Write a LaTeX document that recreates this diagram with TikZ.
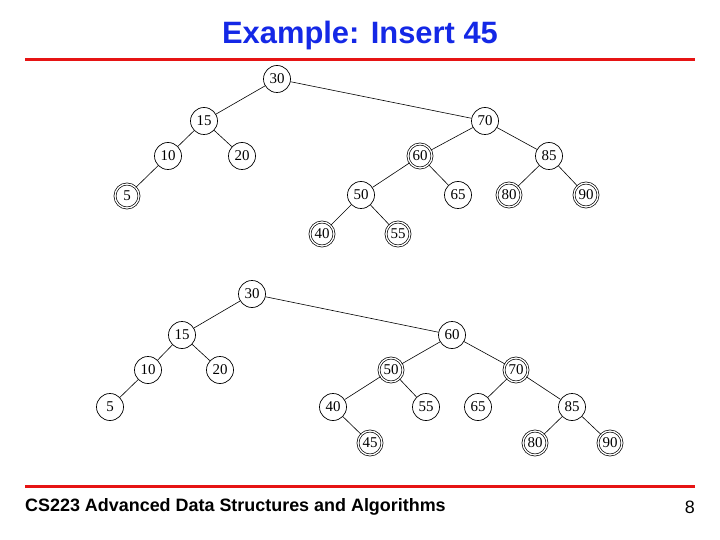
\documentclass[tikz,border=0pt]{standalone}
\usepackage{fontspec}
\setsansfont{Liberation Sans}
\newfontfamily\nodefont{Liberation Serif}
\definecolor{titleblue}{RGB}{20,40,230}
\definecolor{barred}{RGB}{230,20,20}
\tikzset{
  nd/.style={circle, draw, line width=0.7pt, minimum size=27bp, inner sep=0pt, font=\nodefont\fontsize{15}{15}\selectfont},
  rnd/.style={nd, double, double distance=1.3pt, minimum size=24bp},
  edge/.style={line width=0.6pt}
}
\begin{document}
\begin{tikzpicture}[x=1bp, y=-1bp]
        \useasboundingbox (0,0) rectangle (720,540);
        % Title and bars
        \node (title) at (360,36) {\sffamily\bfseries\fontsize{31}{31}\selectfont\color{titleblue}Example: Insert 45};
        \draw [barred, line width=3bp] (25,60) -- (695,60);
        \draw [barred, line width=3bp] (25,486) -- (695,486);
        \node [anchor=west, inner sep=0pt] (course) at (25,507) {\sffamily\bfseries\fontsize{18}{18}\selectfont CS223 Advanced Data Structures and Algorithms};
        \node [anchor=east, inner sep=0pt] (page) at (695,507) {\sffamily\fontsize{18}{18}\selectfont 8};
        % Top tree
        \node [nd] (a30) at (277,79) {30};
        \node [nd] (a15) at (204,121) {15};
        \node [nd] (a70) at (485,121) {70};
        \node [nd] (a10) at (168,156) {10};
        \node [nd] (a20) at (242,156) {20};
        \node [rnd] (a60) at (420,156) {60};
        \node [nd] (a85) at (549,156) {85};
        \node [rnd] (a5) at (127,196) {5};
        \node [nd] (a50) at (361,195) {50};
        \node [nd] (a65) at (458,195) {65};
        \node [rnd] (a80) at (509,195) {80};
        \node [rnd] (a90) at (586,195) {90};
        \node [rnd] (a40) at (322,234) {40};
        \node [rnd] (a55) at (398,234) {55};
        \foreach \p/\c in {30/15,30/70,15/10,15/20,10/5,70/60,70/85,60/50,60/65,85/80,85/90,50/40,50/55}
            \draw [edge] (a\p) -- (a\c);
        % Bottom tree
        \node [nd] (b30) at (252,294) {30};
        \node [nd] (b15) at (182,335) {15};
        \node [nd] (b60) at (452,335) {60};
        \node [nd] (b10) at (148,370) {10};
        \node [nd] (b20) at (220,370) {20};
        \node [rnd] (b50) at (391,370) {50};
        \node [rnd] (b70) at (516,370) {70};
        \node [nd] (b5) at (110,407) {5};
        \node [nd] (b40) at (333,407) {40};
        \node [nd] (b55) at (426,407) {55};
        \node [nd] (b65) at (478,407) {65};
        \node [nd] (b85) at (572,407) {85};
        \node [rnd] (b45) at (370,443) {45};
        \node [rnd] (b80) at (535,443) {80};
        \node [rnd] (b90) at (610,443) {90};
        \foreach \p/\c in {30/15,30/60,15/10,15/20,10/5,60/50,60/70,50/40,50/55,70/65,70/85,40/45,85/80,85/90}
            \draw [edge] (b\p) -- (b\c);
\end{tikzpicture}
\end{document}
